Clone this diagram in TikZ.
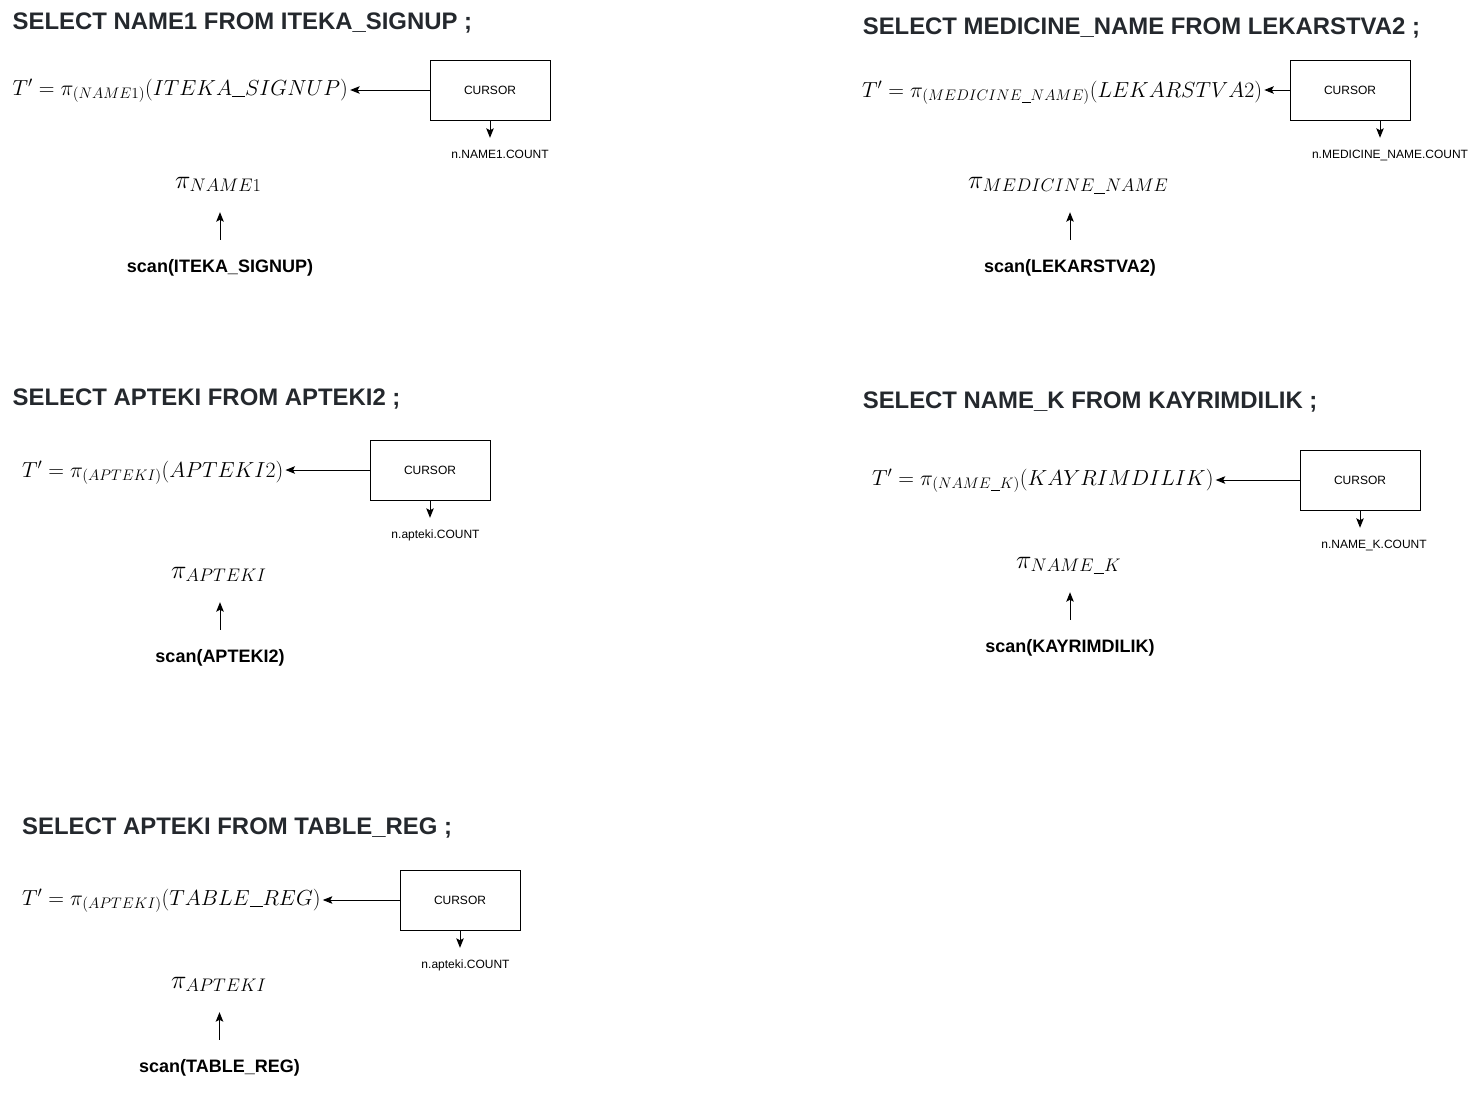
\RequirePackage{fix-cm}
\documentclass[tikz,border=0pt]{standalone}
\usepackage{fontspec}
\setsansfont{Liberation Sans}
\usetikzlibrary{arrows.meta,positioning}

\definecolor{sqlgray}{HTML}{24282D}
% low line for names inside math
\newcommand{\usc}{\underline{\hphantom{n}}}

\tikzset{
  query/.style={anchor=base west, inner sep=0pt, text=sqlgray,
    font=\sffamily\bfseries\fontsize{23.9}{28}\selectfont},
  relexpr/.style={anchor=base west, inner sep=0pt, font=\fontsize{21.8}{26}\selectfont},
  cursorbox/.style={draw, line width=1pt, minimum width=120pt, minimum height=60pt,
    inner sep=0pt, font=\sffamily\fontsize{12}{14}\selectfont},
  countlabel/.style={anchor=base, inner sep=0pt, text height=9pt, text depth=3pt,
    font=\sffamily\fontsize{12}{14}\selectfont},
  projop/.style={anchor=base west, inner sep=0pt, text height=11pt, text depth=6pt,
    font=\fontsize{26}{30}\selectfont},
  scanop/.style={anchor=base, inner sep=0pt, text height=13pt, text depth=4pt,
    font=\sffamily\bfseries\fontsize{18}{22}\selectfont},
  flow/.style={line width=1pt, -{Stealth[length=9.5pt,width=7.5pt,inset=2pt]}},
}

\begin{document}
\begin{tikzpicture}[x=1pt,y=-1pt]
    \useasboundingbox (0,0) rectangle (1469,1092);

    % Query 1
    \node (title1) at (12.5,29) [query] {SELECT NAME1 FROM ITEKA\_SIGNUP ;};
    \node (expr1) at (12.5,95) [relexpr] {$T' = \pi_{(NAME1)}(ITEKA\usc SIGNUP)$};
    \node (cursor1) at (490,90) [cursorbox] {CURSOR};
    \node (count1) at (500,158) [countlabel] {n.NAME1.COUNT};
    \node (proj1) at (175,188) [projop] {$\pi_{NAME1}$};
    \node (scan1) at (220,272) [scanop] {scan(ITEKA\_SIGNUP)};
    \draw[flow, shorten >=2pt] (cursor1.west) -- (expr1.east |- cursor1.west);
    \draw[flow, shorten >=11pt] (cursor1.south) -- (cursor1.south |- count1.north);
    \draw[flow, shorten <=19pt, shorten >=18pt] (scan1.north) -- (scan1.north |- proj1.south);

    % Query 2
    \node (title2) at (862.6,34) [query] {SELECT MEDICINE\_NAME FROM LEKARSTVA2 ;};
    \node (expr2) at (862,97) [relexpr] {$T' = \pi_{(MEDICINE\usc NAME)}(LEKARSTVA2)$};
    \node (cursor2) at (1350,90) [cursorbox] {CURSOR};
    \node (count2) at (1390,158) [countlabel] {n.MEDICINE\_NAME.COUNT};
    \node (proj2) at (968,188) [projop] {$\pi_{MEDICINE\usc NAME}$};
    \node (scan2) at (1070,272) [scanop] {scan(LEKARSTVA2)};
    \draw[flow, shorten >=2pt] (cursor2.west) -- (expr2.east |- cursor2.west);
    \draw[flow, shorten >=11pt] ([xshift=30pt]cursor2.south) -- ([xshift=30pt]cursor2.south |- count2.north);
    \draw[flow, shorten <=19pt, shorten >=18pt] (scan2.north) -- (scan2.north |- proj2.south);

    % Query 3
    \node (title3) at (12.5,405) [query] {SELECT APTEKI FROM APTEKI2 ;};
    \node (expr3) at (22,477) [relexpr] {$T' = \pi_{(APTEKI)}(APTEKI2)$};
    \node (cursor3) at (430,470) [cursorbox] {CURSOR};
    \node (count3) at (435.5,538) [countlabel] {n.apteki.COUNT};
    \node (proj3) at (171,578) [projop] {$\pi_{APTEKI}$};
    \node (scan3) at (220,662) [scanop] {scan(APTEKI2)};
    \draw[flow, shorten >=2pt] (cursor3.west) -- (expr3.east |- cursor3.west);
    \draw[flow, shorten >=11pt] (cursor3.south) -- (cursor3.south |- count3.north);
    \draw[flow, shorten <=19pt, shorten >=18pt] (scan3.north) -- (scan3.north |- proj3.south);

    % Query 4
    \node (title4) at (862.6,408) [query] {SELECT NAME\_K FROM KAYRIMDILIK ;};
    \node (expr4) at (872,485) [relexpr] {$T' = \pi_{(NAME\usc K)}(KAYRIMDILIK)$};
    \node (cursor4) at (1360,480) [cursorbox] {CURSOR};
    \node (count4) at (1374,548) [countlabel] {n.NAME\_K.COUNT};
    \node (proj4) at (1016,568) [projop] {$\pi_{NAME\usc K}$};
    \node (scan4) at (1070,652) [scanop] {scan(KAYRIMDILIK)};
    \draw[flow, shorten >=2pt] (cursor4.west) -- (expr4.east |- cursor4.west);
    \draw[flow, shorten >=11pt] (cursor4.south) -- (cursor4.south |- count4.north);
    \draw[flow, shorten <=19pt, shorten >=18pt] (scan4.north) -- (scan4.north |- proj4.south);

    % Query 5
    \node (title5) at (22,834) [query] {SELECT APTEKI FROM TABLE\_REG ;};
    \node (expr5) at (22,905) [relexpr] {$T' = \pi_{(APTEKI)}(TABLE\usc REG)$};
    \node (cursor5) at (460,900) [cursorbox] {CURSOR};
    \node (count5) at (465.5,968) [countlabel] {n.apteki.COUNT};
    \node (proj5) at (171,988) [projop] {$\pi_{APTEKI}$};
    \node (scan5) at (219.5,1072) [scanop] {scan(TABLE\_REG)};
    \draw[flow, shorten >=2pt] (cursor5.west) -- (expr5.east |- cursor5.west);
    \draw[flow, shorten >=11pt] (cursor5.south) -- (cursor5.south |- count5.north);
    \draw[flow, shorten <=19pt, shorten >=18pt] (scan5.north) -- (scan5.north |- proj5.south);
\end{tikzpicture}
\end{document}
